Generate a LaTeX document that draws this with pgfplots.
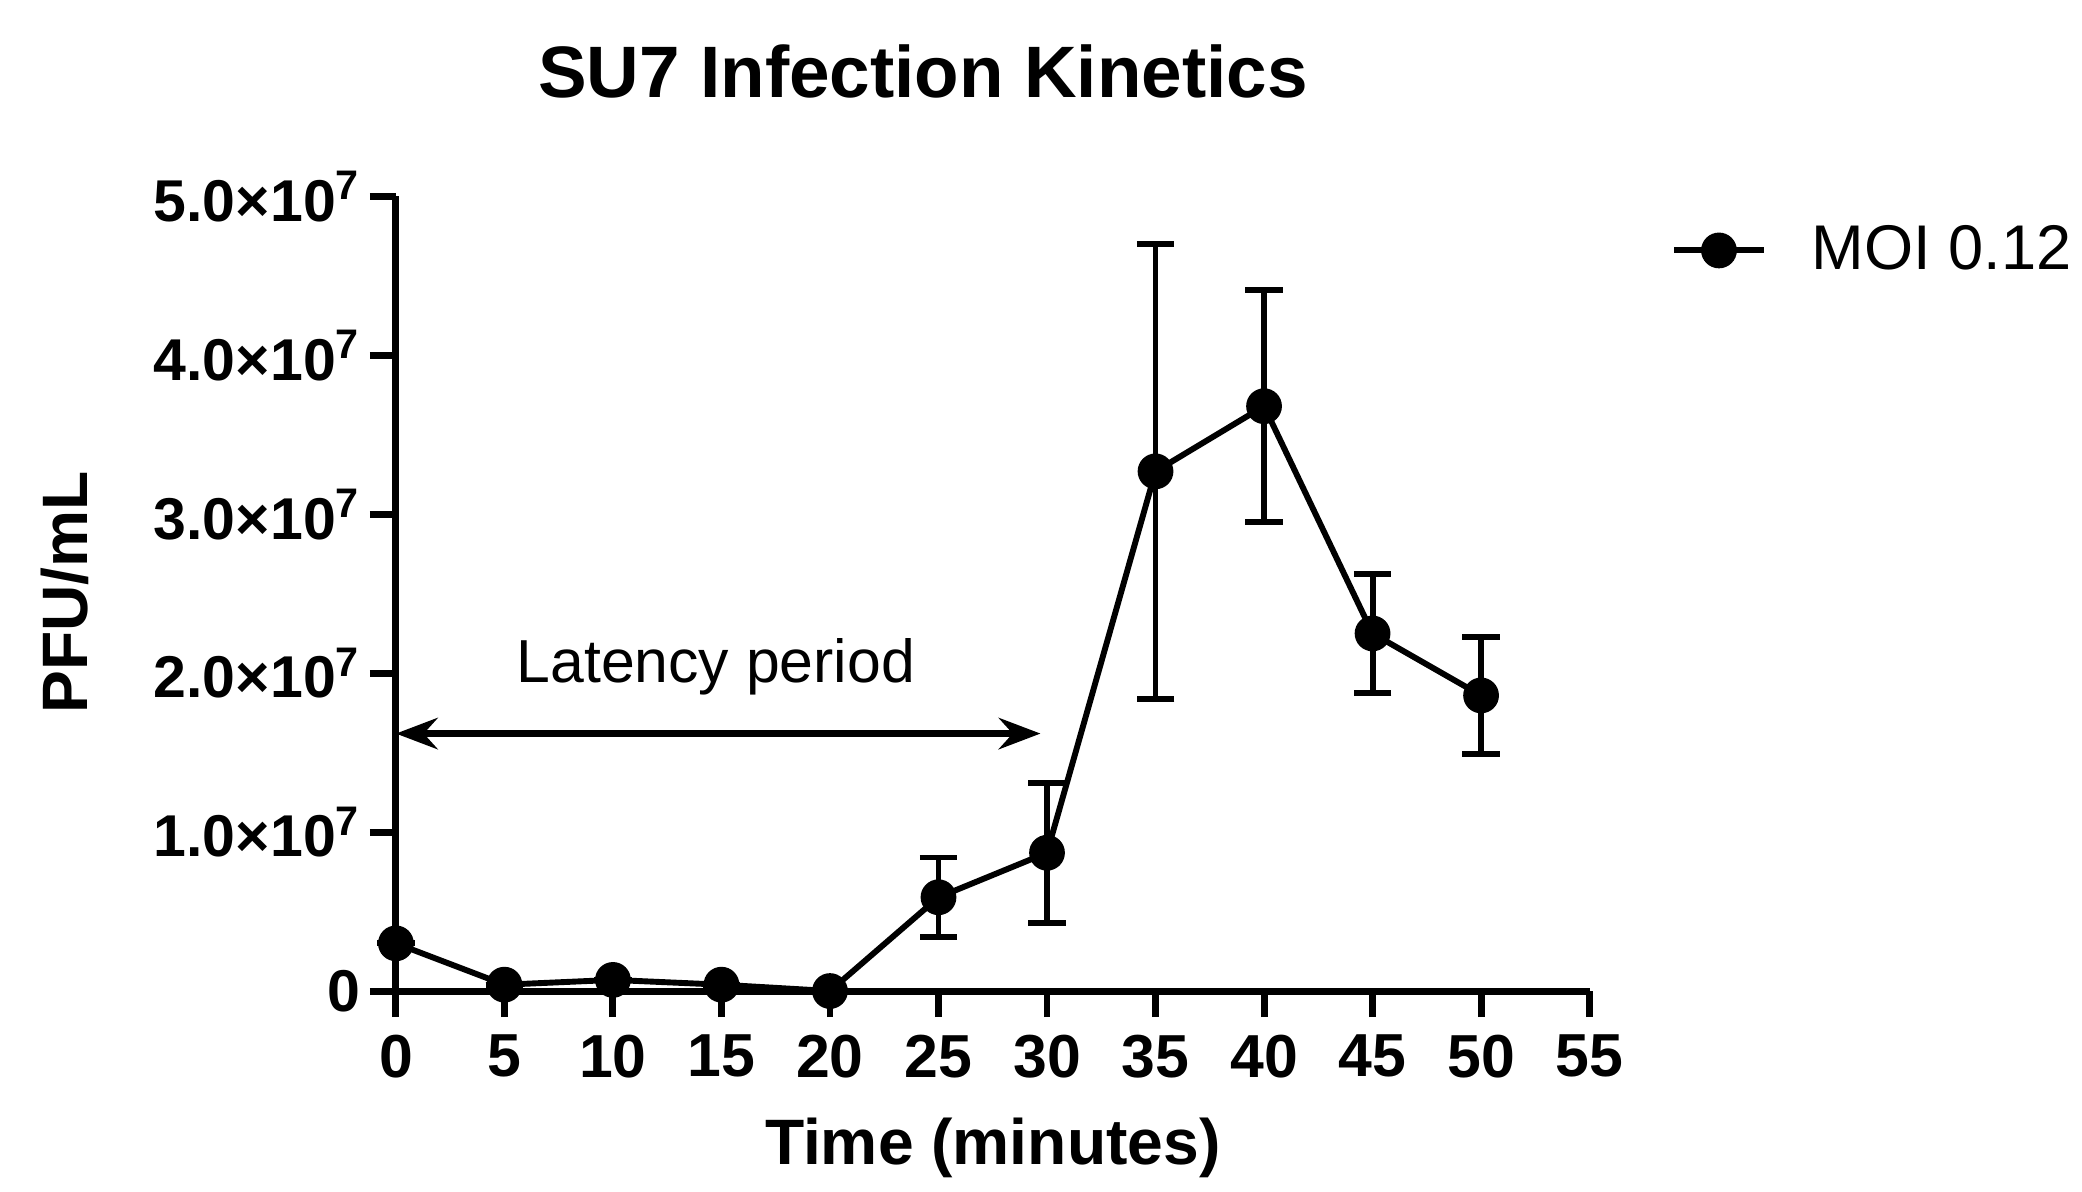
\documentclass[border=0pt]{standalone}
\usepackage{fontspec}
\setmainfont{Liberation Sans}
\usepackage{pgfplots}
\pgfplotsset{compat=1.18}
\usetikzlibrary{arrows.meta}
\pgfplotstableread{
x y err
0 3.0e6 0
5 4e5 0
10 7e5 0
15 4e5 0
20 0 0
25 5.9e6 2.5e6
30 8.7e6 4.4e6
35 3.27e7 1.43e7
40 3.68e7 0.73e7
45 2.25e7 0.375e7
50 1.86e7 0.37e7
}\datatable
\begin{document}
\begin{tikzpicture}
\path[use as bounding box] (-114.1pt,-57.9pt) rectangle (485.9pt,285.6pt);
\begin{axis}[
  scale only axis,
  width=344pt, height=229pt,
  at={(0,0)}, anchor=south west,
  xmin=0, xmax=55, ymin=0, ymax=5e7,
  clip=false,
  axis lines=left,
  axis line style={-, line width=2pt},
  every tick/.style={black, line width=2pt},
  tick align=outside,
  major tick length=7.5pt,
  xtick={0,5,...,55},
  ytick={0,1e7,2e7,3e7,4e7,5e7},
  yticklabels={0,1.0×10\textsuperscript{7},2.0×10\textsuperscript{7},3.0×10\textsuperscript{7},4.0×10\textsuperscript{7},5.0×10\textsuperscript{7}},
  scaled y ticks=false,
  /pgf/number format/assume math mode=true,
  xticklabel style={font=\bfseries\fontsize{17.5}{20}\selectfont, inner sep=0pt, anchor=north, yshift=-5pt},
  yticklabel style={font=\bfseries\fontsize{17}{20}\selectfont, inner sep=0pt, anchor=east, xshift=-2.5pt},
  title={SU7 Infection Kinetics},
  title style={at={(axis description cs:0.4416,1.098)}, anchor=base, font=\bfseries\fontsize{21}{25}\selectfont, inner sep=0pt},
  xlabel={Time (minutes)},
  xlabel style={at={(axis description cs:0.5,-0.2183)}, anchor=base, font=\bfseries\fontsize{18.5}{22}\selectfont, inner sep=0pt},
  ylabel={PFU/mL},
  ylabel style={at={(axis description cs:-0.2581,0.502)}, anchor=base, rotate=0, font=\bfseries\fontsize{18.5}{22}\selectfont, inner sep=0pt},
  legend style={at={(1.068,0.932)}, anchor=west, draw=none, fill=none, inner sep=0pt, column sep=13pt, nodes={inner sep=0pt}, font=\fontsize{18.2}{22}\selectfont},
  legend image code/.code={\draw[mark repeat=2,mark phase=2] plot coordinates {(0pt,0pt)(12.85pt,0pt)(25.7pt,0pt)};},
]
\addplot[black, line width=1.7pt, mark=*, mark size=4.3pt, mark options={fill=black, solid},
  error bars/.cd, y dir=both, y explicit,
  error bar style={line width=1.7pt, black},
  error mark options={rotate=90, mark size=5.4pt, line width=1.7pt, black}]
  table[x=x, y=y, y error=err] {\datatable};
\addlegendentry{MOI 0.12}
\draw[line width=2.2pt, {Stealth[length=12pt,width=9pt,inset=4pt]}-{Stealth[length=12pt,width=9pt,inset=4pt]}] (axis cs:0,1.62e7) -- (axis cs:29.7,1.62e7);
\node[anchor=base, font=\fontsize{17.5}{20}\selectfont, inner sep=0pt] at (axis cs:14.74,1.944e7) {Latency period};
\end{axis}
\end{tikzpicture}
\end{document}
